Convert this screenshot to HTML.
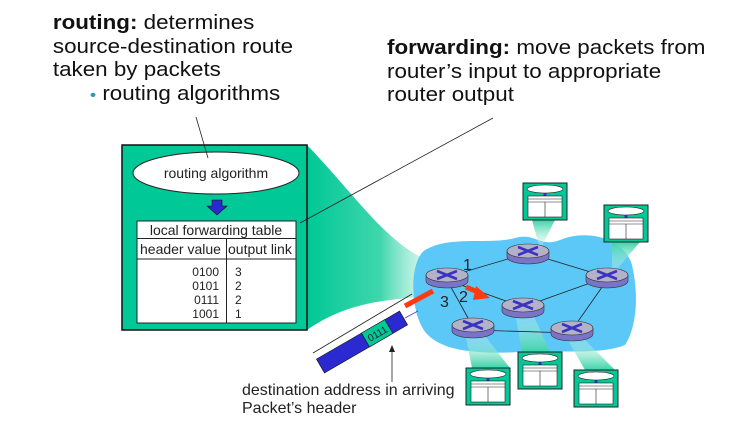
<!DOCTYPE html>
<html><head><meta charset="utf-8"><style>
body{margin:0;background:#fff;}
svg{display:block;font-family:"Liberation Sans",Arial,sans-serif;}
</style></head><body>
<svg width="747" height="439" viewBox="0 0 747 439" xmlns="http://www.w3.org/2000/svg">
<defs>
<linearGradient id="cone" x1="0" y1="0" x2="1" y2="0">
<stop offset="0" stop-color="#00c896"/><stop offset="0.55" stop-color="#3fd6ad"/><stop offset="1" stop-color="#c8f3e6" stop-opacity="0.3"/>
</linearGradient>
<linearGradient id="cu" x1="0" y1="1" x2="0" y2="0">
<stop offset="0" stop-color="#e6faf3" stop-opacity="0.2"/><stop offset="1" stop-color="#3ad4a8"/>
</linearGradient>
<linearGradient id="cd" x1="0" y1="0" x2="0" y2="1">
<stop offset="0" stop-color="#e6faf3" stop-opacity="0.2"/><stop offset="1" stop-color="#3ad4a8"/>
</linearGradient>
<g id="rt">
<path d="M-21 0 v6 a21 7 0 0 0 42 0 v-6 z" fill="#7a74c8" stroke="#333" stroke-width="0.6"/>
<ellipse cx="0" cy="0" rx="21" ry="7" fill="#b4b2c8" stroke="#333" stroke-width="0.6"/>
<path d="M-10 -4 L10 4 M-10 4 L10 -4" stroke="#3a32c0" stroke-width="2.6"/>
</g>
<g id="mb">
<rect x="0" y="0" width="44" height="37" fill="#00c896" stroke="#222" stroke-width="1"/>
<ellipse cx="22" cy="6" rx="18" ry="4" fill="#fff" stroke="#222" stroke-width="0.6"/>
<rect x="20.5" y="10" width="3" height="3" fill="#3030c0"/>
<rect x="5" y="13" width="34" height="21" fill="#fff" stroke="#222" stroke-width="0.6"/>
<path d="M5 16 H39 M5 19 H39 M22 19 V34" stroke="#222" stroke-width="0.6" fill="none"/>
</g>
</defs>

<path d="M307 145 C360 200 390 250 440 265 L440 295 C390 300 350 300 307 330 Z" fill="url(#cone)"/>

<path d="M425 250 C450 235 490 245 515 238 C535 232 540 248 560 240 C590 228 625 240 632 265 C640 300 635 330 625 345 C600 355 560 350 520 352 C480 354 445 352 428 335 C410 318 408 262 425 250 Z" fill="#5cc8f8"/>

<path d="M532 220 L555 220 L540 250 Z" fill="url(#cu)"/>
<path d="M612 242 L640 242 L612 275 Z" fill="url(#cu)"/>
<path d="M515 312 L532 312 L550 352 L522 352 Z" fill="url(#cd)"/>
<path d="M465 332 L482 332 L510 368 L472 368 Z" fill="url(#cd)"/>
<path d="M565 335 L580 335 L615 370 L585 370 Z" fill="url(#cd)"/>

<g stroke="#222" stroke-width="0.8">
<line x1="447" y1="277" x2="528" y2="253"/>
<line x1="528" y1="253" x2="607" y2="277"/>
<line x1="447" y1="280" x2="523" y2="307"/>
<line x1="523" y1="307" x2="607" y2="277"/>
<line x1="447" y1="280" x2="473" y2="327"/>
<line x1="473" y1="330" x2="572" y2="333"/>
<line x1="607" y1="280" x2="572" y2="330"/>
</g>
<use href="#rt" x="447" y="275"/>
<use href="#rt" x="528" y="251"/>
<use href="#rt" x="607" y="275"/>
<use href="#rt" x="523" y="305"/>
<use href="#rt" x="473" y="325"/>
<use href="#rt" x="572" y="328"/>

<text x="463" y="270" font-size="16" fill="#222">1</text>
<text x="459" y="302" font-size="16" fill="#222">2</text>
<text x="440" y="307" font-size="16" fill="#222">3</text>

<line x1="405" y1="306" x2="433" y2="291" stroke="#ff3a10" stroke-width="5"/>
<line x1="466" y1="287" x2="480" y2="293" stroke="#ff3a10" stroke-width="5"/>
<path d="M476 286 L490 298 L473 300 Z" fill="#ff3a10"/>

<use href="#mb" x="523" y="183"/>
<use href="#mb" x="604" y="205"/>
<use href="#mb" x="518" y="352"/>
<use href="#mb" x="466" y="368"/>
<use href="#mb" x="574" y="370"/>

<rect x="122" y="145" width="185" height="185" fill="#00c896" stroke="#111" stroke-width="1.5"/>
<ellipse cx="216" cy="173" rx="83" ry="21" fill="#fff" stroke="#222" stroke-width="1"/>
<text x="216" y="178" font-size="14" text-anchor="middle" fill="#222">routing algorithm</text>
<path d="M212 200 h10 v6 h5 l-10 9 l-10 -9 h5 z" fill="#2a2ad0" stroke="#111" stroke-width="0.6"/>
<rect x="137" y="221" width="159" height="102" fill="#fff" stroke="#222" stroke-width="1"/>
<path d="M137 238.5 H296 M137 259 H296 M226.5 238.5 V323" stroke="#222" stroke-width="1" fill="none"/>
<text x="216" y="235" font-size="14" text-anchor="middle" fill="#222">local forwarding table</text>
<text x="140" y="254" font-size="14" fill="#222">header value</text>
<text x="228" y="254" font-size="14" fill="#222">output link</text>
<g font-size="12" fill="#222">
<text x="219" y="276" text-anchor="end">0100</text><text x="235" y="276">3</text>
<text x="219" y="290" text-anchor="end">0101</text><text x="235" y="290">2</text>
<text x="219" y="304" text-anchor="end">0111</text><text x="235" y="304">2</text>
<text x="219" y="318" text-anchor="end">1001</text><text x="235" y="318">1</text>
</g>

<line x1="196" y1="117" x2="208" y2="158" stroke="#222" stroke-width="0.8"/>
<line x1="300" y1="223" x2="493" y2="118" stroke="#222" stroke-width="0.8"/>

<line x1="313" y1="353" x2="412" y2="294" stroke="#222" stroke-width="0.8"/>
<g transform="translate(362,342) rotate(-30)">
<rect x="-48" y="-8" width="96" height="16" fill="#2a2ad0" stroke="#111" stroke-width="0.6"/>
<rect x="4" y="-8" width="27" height="16" fill="#00c896" stroke="#111" stroke-width="0.6"/>
<text x="17.5" y="4" font-size="10" text-anchor="middle" fill="#222">0111</text>
</g>
<line x1="405" y1="318" x2="418" y2="311" stroke="#4040d0" stroke-width="0.8"/>
<line x1="392" y1="382" x2="392" y2="350" stroke="#222" stroke-width="0.8"/>
<path d="M389 352 L392 345 L395 352 Z" fill="#222"/>

<text x="242" y="395" font-size="16" fill="#222">destination address in arriving</text>
<text x="242" y="413" font-size="16" fill="#222">Packet’s header</text>

<g font-size="20" fill="#111" transform="translate(54,0) scale(1.12,1) translate(-54,0)">
<text x="53" y="29"><tspan font-weight="bold">routing:</tspan> determines</text>
<text x="53" y="53">source-destination route</text>
<text x="53" y="76">taken by packets</text>
<text x="86" y="100"><tspan fill="#2a9ab8" font-size="16">•</tspan>  routing algorithms</text>
</g>
<g font-size="20" fill="#111" transform="translate(387,0) scale(1.12,1) translate(-387,0)">
<text x="387" y="54"><tspan font-weight="bold">forwarding:</tspan> move packets from</text>
<text x="387" y="78">router’s input to appropriate</text>
<text x="387" y="101">router output</text>
</g>
</svg>
</body></html>
